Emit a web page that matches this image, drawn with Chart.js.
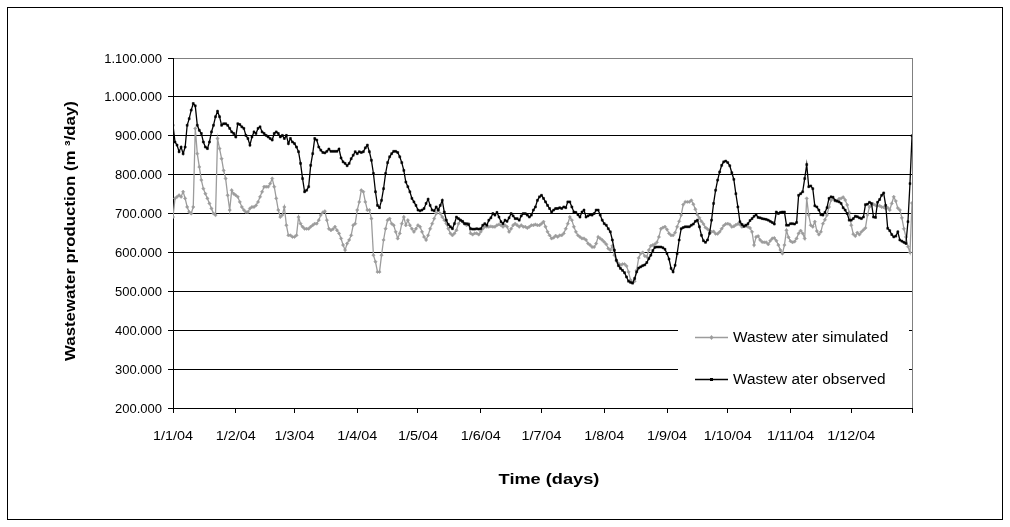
<!DOCTYPE html>
<html>
<head>
<meta charset="utf-8">
<script src="https://cdn.jsdelivr.net/npm/chart.js@4/dist/chart.umd.min.js"></script>
<style>
  html, body { margin: 0; padding: 0; background: #fff; }
  #wrap { width: 1010px; height: 527px; position: relative; }
</style>
</head>
<body>
<div id="wrap"><canvas id="c" width="1010" height="527"></canvas></div>
<script>
// ---- DATA (values in thousand m3/day, one value per day of 2004, day 0 = 1/1/04) ----
const observed = [
  927,884,876,859,871,854,871,927,944,966,
  983,977,927,914,906,884,871,867,884,910,
  927,949,963,949,927,931,931,927,919,910,
  906,897,931,929,923,919,901,893,876,897,
  910,906,919,923,910,906,901,897,893,889,
  906,910,906,897,901,893,901,880,893,884,
  880,871,859,829,790,756,760,769,824,854,
  893,889,871,863,857,856,860,866,860,860,
  860,860,866,843,833,829,823,829,841,850,
  859,854,859,857,859,869,876,859,837,803,
  756,721,715,734,764,803,831,846,854,860,
  860,857,846,831,811,781,769,756,739,730,
  721,709,707,709,713,726,737,721,709,707,
  717,709,721,734,704,683,672,666,661,674,
  691,687,683,680,674,674,672,661,660,660,
  661,660,661,670,674,670,683,689,700,696,
  703,691,679,674,683,680,689,700,694,687,
  687,683,694,700,700,696,691,696,709,717,
  734,743,747,739,730,721,713,704,709,713,
  713,715,713,717,715,730,730,717,704,703,
  697,691,704,709,691,694,697,696,700,709,
  709,696,683,674,670,661,653,632,606,580,
  566,559,554,548,537,526,523,521,533,550,
  560,563,566,568,574,584,593,605,613,614,
  614,614,612,608,597,583,559,550,567,597,
  632,661,664,666,666,666,670,673,680,683,
  666,644,630,626,632,649,683,726,760,786,
  807,824,833,835,831,823,805,788,751,717,
  679,672,667,670,674,682,687,693,697,690,
  689,687,686,685,683,680,677,673,704,700,
  703,704,704,670,670,674,674,673,677,747,
  751,756,790,826,769,771,764,720,717,709,
  697,696,703,715,739,743,742,734,732,730,
  726,715,709,700,683,683,687,693,692,689,
  687,691,723,724,729,726,691,690,729,736,
  747,753,721,662,656,646,640,642,653,632,
  629,626,623,679,777,900
];
const simulated = [
  691,739,743,747,743,756,739,717,704,700,
  717,919,854,820,786,764,751,739,726,713,
  700,696,893,867,841,811,790,747,709,760,
  751,747,743,730,717,709,704,704,713,717,
  717,721,730,743,756,769,769,769,777,790,
  769,739,709,691,696,717,670,644,644,640,
  640,644,691,674,666,661,661,661,666,670,
  674,674,683,696,703,706,683,661,657,660,
  666,657,649,636,619,606,623,632,644,670,
  674,709,730,760,756,730,709,709,687,593,
  576,550,550,593,632,661,683,687,674,670,
  653,636,649,674,691,670,683,670,661,653,
  661,670,666,653,640,632,644,661,674,687,
  700,709,700,691,683,674,661,649,644,649,
  657,674,683,679,674,670,674,649,646,649,
  649,646,653,661,666,666,666,667,666,666,
  670,672,670,666,670,666,653,661,670,674,
  670,666,670,666,666,663,666,670,670,672,
  670,670,674,679,666,653,644,636,638,643,
  640,644,644,649,661,674,691,683,666,653,
  644,640,636,636,632,623,619,614,614,623,
  640,636,632,627,621,610,606,617,593,578,
  572,567,570,570,565,550,529,523,526,554,
  586,597,600,591,589,606,617,619,621,626,
  640,661,664,666,659,649,644,644,651,666,
  680,696,723,730,730,730,734,724,711,697,
  689,680,673,664,660,656,653,654,648,648,
  653,661,669,673,674,672,666,667,671,673,
  672,666,670,668,666,663,653,619,640,642,
  632,627,626,626,621,630,636,637,630,619,
  606,597,619,657,639,629,626,628,636,649,
  656,649,636,739,696,670,666,679,655,646,
  653,674,684,696,717,734,739,733,733,738,
  739,742,735,722,703,670,647,642,651,646,
  653,658,663,696,717,721,724,721,720,720,
  717,716,713,715,709,726,743,732,714,709,
  689,661,640,615,600,727
];
const xTickDays   = [0, 31, 60, 91, 121, 152, 182, 213, 244, 274, 305, 335];
const xTickLabels = ['1/1/04','1/2/04','1/3/04','1/4/04','1/5/04','1/6/04','1/7/04','1/8/04','1/9/04','1/10/04','1/11/04','1/12/04'];
const xEndDay = 365;
const yTickValues = [200, 300, 400, 500, 600, 700, 800, 900, 1000, 1100];
const yTickLabels = ['200.000','300.000','400.000','500.000','600.000','700.000','800.000','900.000','1.000.000','1.100.000'];
const seriesNames = ['Wastew ater simulated', 'Wastew ater observed'];
const xTitle = 'Time (days)';
const yTitle = 'Wastewater production (m \u00B3/day)';

// ---- styles ----
const SIM_COLOR = '#9c9c9c';
const OBS_COLOR = '#000000';
const FONT = '"Liberation Sans", Arial, sans-serif';

function drawText(ctx, text, x, y, font, sx, align, baseline) {
  ctx.save();
  ctx.font = font;
  ctx.textAlign = align;
  ctx.textBaseline = baseline;
  ctx.translate(x, y);
  ctx.scale(sx, 1);
  ctx.fillText(text, 0, 0);
  ctx.restore();
}

const framePlugin = {
  id: 'frame',
  beforeDraw(chart) {
    const ctx = chart.ctx;
    ctx.save();
    ctx.fillStyle = '#fff';
    ctx.fillRect(0, 0, chart.width, chart.height);
    ctx.strokeStyle = '#000';
    ctx.lineWidth = 1;
    ctx.strokeRect(7.5, 7.5, 995, 512);
    ctx.restore();
  },
  beforeDatasetsDraw(chart) {
    const ctx = chart.ctx, a = chart.chartArea;
    ctx.save();
    ctx.strokeStyle = '#808080';
    ctx.lineWidth = 1;
    ctx.beginPath();
    ctx.moveTo(Math.round(a.right) + 0.5, a.top);
    ctx.lineTo(Math.round(a.right) + 0.5, a.bottom);
    ctx.stroke();
    ctx.restore();
  }
};

const legendPlugin = {
  id: 'innerLegend',
  afterDatasetsDraw(chart) {
    const ctx = chart.ctx;
    ctx.save();
    ctx.fillStyle = '#fff';
    ctx.fillRect(678, 300, 231, 104);
    const items = [
      { name: seriesNames[0], color: SIM_COLOR, y: 337, style: 'diamond' },
      { name: seriesNames[1], color: OBS_COLOR, y: 379, style: 'square' }
    ];
    items.forEach(it => {
      ctx.strokeStyle = it.color;
      ctx.lineWidth = 1.3;
      ctx.beginPath();
      ctx.moveTo(695, it.y + 0.5);
      ctx.lineTo(728, it.y + 0.5);
      ctx.stroke();
      ctx.fillStyle = it.color;
      if (it.style === 'diamond') {
        ctx.beginPath();
        ctx.moveTo(711.5, it.y - 2); ctx.lineTo(713.5, it.y + 0.5);
        ctx.lineTo(711.5, it.y + 3); ctx.lineTo(709.5, it.y + 0.5);
        ctx.closePath(); ctx.fill();
      } else {
        ctx.fillRect(710, it.y - 1, 3, 3);
      }
      ctx.fillStyle = '#000';
      drawText(ctx, it.name, 733, it.y + 1, '14px ' + FONT, 1.1, 'left', 'middle');
    });
    ctx.restore();
  }
};

const textPlugin = {
  id: 'texts',
  afterDraw(chart) {
    const ctx = chart.ctx;
    const xs = chart.scales.x, ys = chart.scales.y;
    ctx.save();
    ctx.fillStyle = '#000';
    yTickValues.forEach((v, i) => {
      drawText(ctx, yTickLabels[i], 162, ys.getPixelForValue(v) + 1, '13px ' + FONT, 1.0, 'right', 'middle');
    });
    xTickDays.forEach((d, i) => {
      drawText(ctx, xTickLabels[i], xs.getPixelForValue(d), 440, '12px ' + FONT, 1.2, 'center', 'alphabetic');
    });
    drawText(ctx, xTitle, 549, 484, 'bold 14px ' + FONT, 1.3, 'center', 'alphabetic');
    ctx.save();
    ctx.translate(71, 231);
    ctx.rotate(-Math.PI / 2);
    ctx.scale(1.2, 1.0);
    ctx.font = 'bold 14px ' + FONT;
    ctx.textAlign = 'center';
    ctx.textBaseline = 'middle';
    ctx.fillText(yTitle, 0, 0);
    ctx.restore();
    ctx.restore();
  }
};

const ctx = document.getElementById('c').getContext('2d');
new Chart(ctx, {
  type: 'line',
  data: {
    datasets: [
      {
        label: seriesNames[0],
        data: simulated.map((v, i) => ({ x: i, y: v })),
        borderColor: SIM_COLOR,
        backgroundColor: SIM_COLOR,
        borderWidth: 1.3,
        pointStyle: 'rectRot',
        pointRadius: 1.7,
        pointBorderWidth: 0.5,
        pointBackgroundColor: SIM_COLOR,
        pointBorderColor: SIM_COLOR,
        tension: 0,
        order: 1
      },
      {
        label: seriesNames[1],
        data: observed.map((v, i) => ({ x: i, y: v })),
        borderColor: OBS_COLOR,
        backgroundColor: OBS_COLOR,
        borderWidth: 1.3,
        pointStyle: 'rect',
        pointRadius: 1.4,
        pointBorderWidth: 0.5,
        pointBackgroundColor: OBS_COLOR,
        pointBorderColor: OBS_COLOR,
        tension: 0,
        order: 0
      }
    ]
  },
  options: {
    responsive: false,
    animation: false,
    devicePixelRatio: 1,
    layout: { padding: { left: 163, right: 98, top: 58, bottom: 109 } },
    plugins: { legend: { display: false }, tooltip: { enabled: false }, title: { display: false } },
    scales: {
      x: {
        type: 'linear',
        min: 0,
        max: xEndDay,
        afterBuildTicks: s => { s.ticks = xTickDays.concat([xEndDay]).map(v => ({ value: v })); },
        afterFit: s => { s.height = 10; },
        ticks: { display: false },
        grid: { drawOnChartArea: false, drawTicks: true, tickLength: 5, tickColor: '#000', color: '#000' },
        border: { color: '#000', width: 1 }
      },
      y: {
        min: 200,
        max: 1100,
        afterBuildTicks: s => { s.ticks = yTickValues.map(v => ({ value: v })); },
        afterFit: s => { s.width = 10; },
        ticks: { display: false },
        grid: {
          color: c => (c.tick && c.tick.value === 1100 ? '#808080' : '#000'),
          tickColor: '#000',
          lineWidth: 1,
          drawTicks: true,
          tickLength: 5
        },
        border: { color: '#000', width: 1 }
      }
    }
  },
  plugins: [framePlugin, legendPlugin, textPlugin]
});
</script>
</body>
</html>
